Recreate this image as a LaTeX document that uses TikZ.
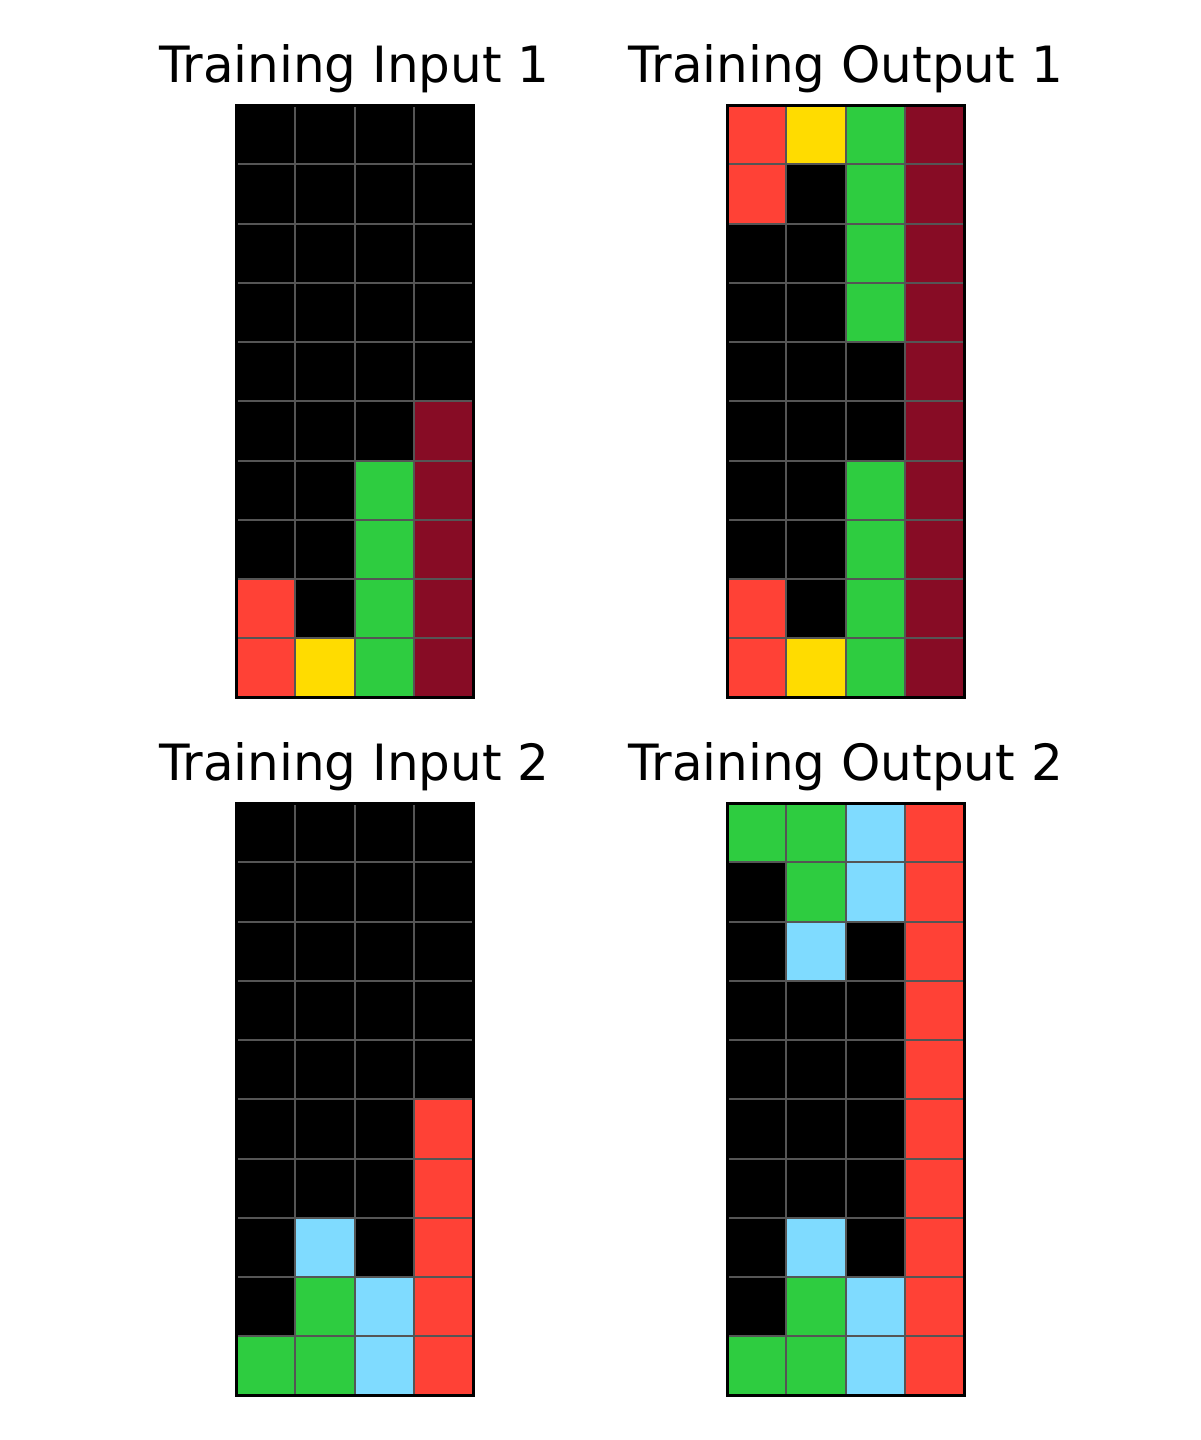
\documentclass[tikz,border=0pt]{standalone}
\usepackage{fontspec}
\setmainfont{DejaVu Sans}
\definecolor{cK}{HTML}{000000}
\definecolor{cR}{HTML}{FF4136}
\definecolor{cY}{HTML}{FFDC00}
\definecolor{cG}{HTML}{2ECC40}
\definecolor{cM}{HTML}{870C25}
\definecolor{cB}{HTML}{7FDBFF}
\definecolor{gridgray}{HTML}{555555}
\newcommand\arcgrid[3]{%
  \foreach \rw [count=\r from 0] in {#3} {
    \foreach \cc [count=\k from 0] in \rw {
      \fill[fill=c\cc] ({#1+\k*59.25}, {#2+\r*59.25}) rectangle ++(59.25,59.25);
    }
  }
  \foreach \k in {1,2,3} { \draw[gridline] ({#1+\k*59.25}, #2) -- ++(0,592.5); }
  \foreach \r in {1,...,9} { \draw[gridline] (#1, {#2+\r*59.25}) -- ++(237,0); }
  \draw[gridborder] (#1,#2) rectangle ++(237,592.5);
}
\begin{document}
\begin{tikzpicture}[x=0.5pt,y=-0.5pt,
  gridline/.style={draw=gridgray,line width=1pt},
  gridborder/.style={draw=black,line width=1.5pt},
  title/.style={anchor=base,inner sep=0pt,font=\fontsize{25}{30}\selectfont}]
\useasboundingbox (0,0) rectangle (1200,1440);
\arcgrid{236}{105}{{K,K,K,K},{K,K,K,K},{K,K,K,K},{K,K,K,K},{K,K,K,K},{K,K,K,M},{K,K,G,M},{K,K,G,M},{R,K,G,M},{R,Y,G,M}}
\arcgrid{727}{105}{{R,Y,G,M},{R,K,G,M},{K,K,G,M},{K,K,G,M},{K,K,K,M},{K,K,K,M},{K,K,G,M},{K,K,G,M},{R,K,G,M},{R,Y,G,M}}
\arcgrid{236}{803}{{K,K,K,K},{K,K,K,K},{K,K,K,K},{K,K,K,K},{K,K,K,K},{K,K,K,R},{K,K,K,R},{K,B,K,R},{K,G,B,R},{G,G,B,R}}
\arcgrid{727}{803}{{G,G,B,R},{K,G,B,R},{K,B,K,R},{K,K,K,R},{K,K,K,R},{K,K,K,R},{K,K,K,R},{K,B,K,R},{K,G,B,R},{G,G,B,R}}
\node[title] (t1) at (354.5,82) {Training Input 1};
\node[title] (t2) at (845.5,82) {Training Output 1};
\node[title] (t3) at (354.5,780) {Training Input 2};
\node[title] (t4) at (845.5,780) {Training Output 2};
\end{tikzpicture}
\end{document}
